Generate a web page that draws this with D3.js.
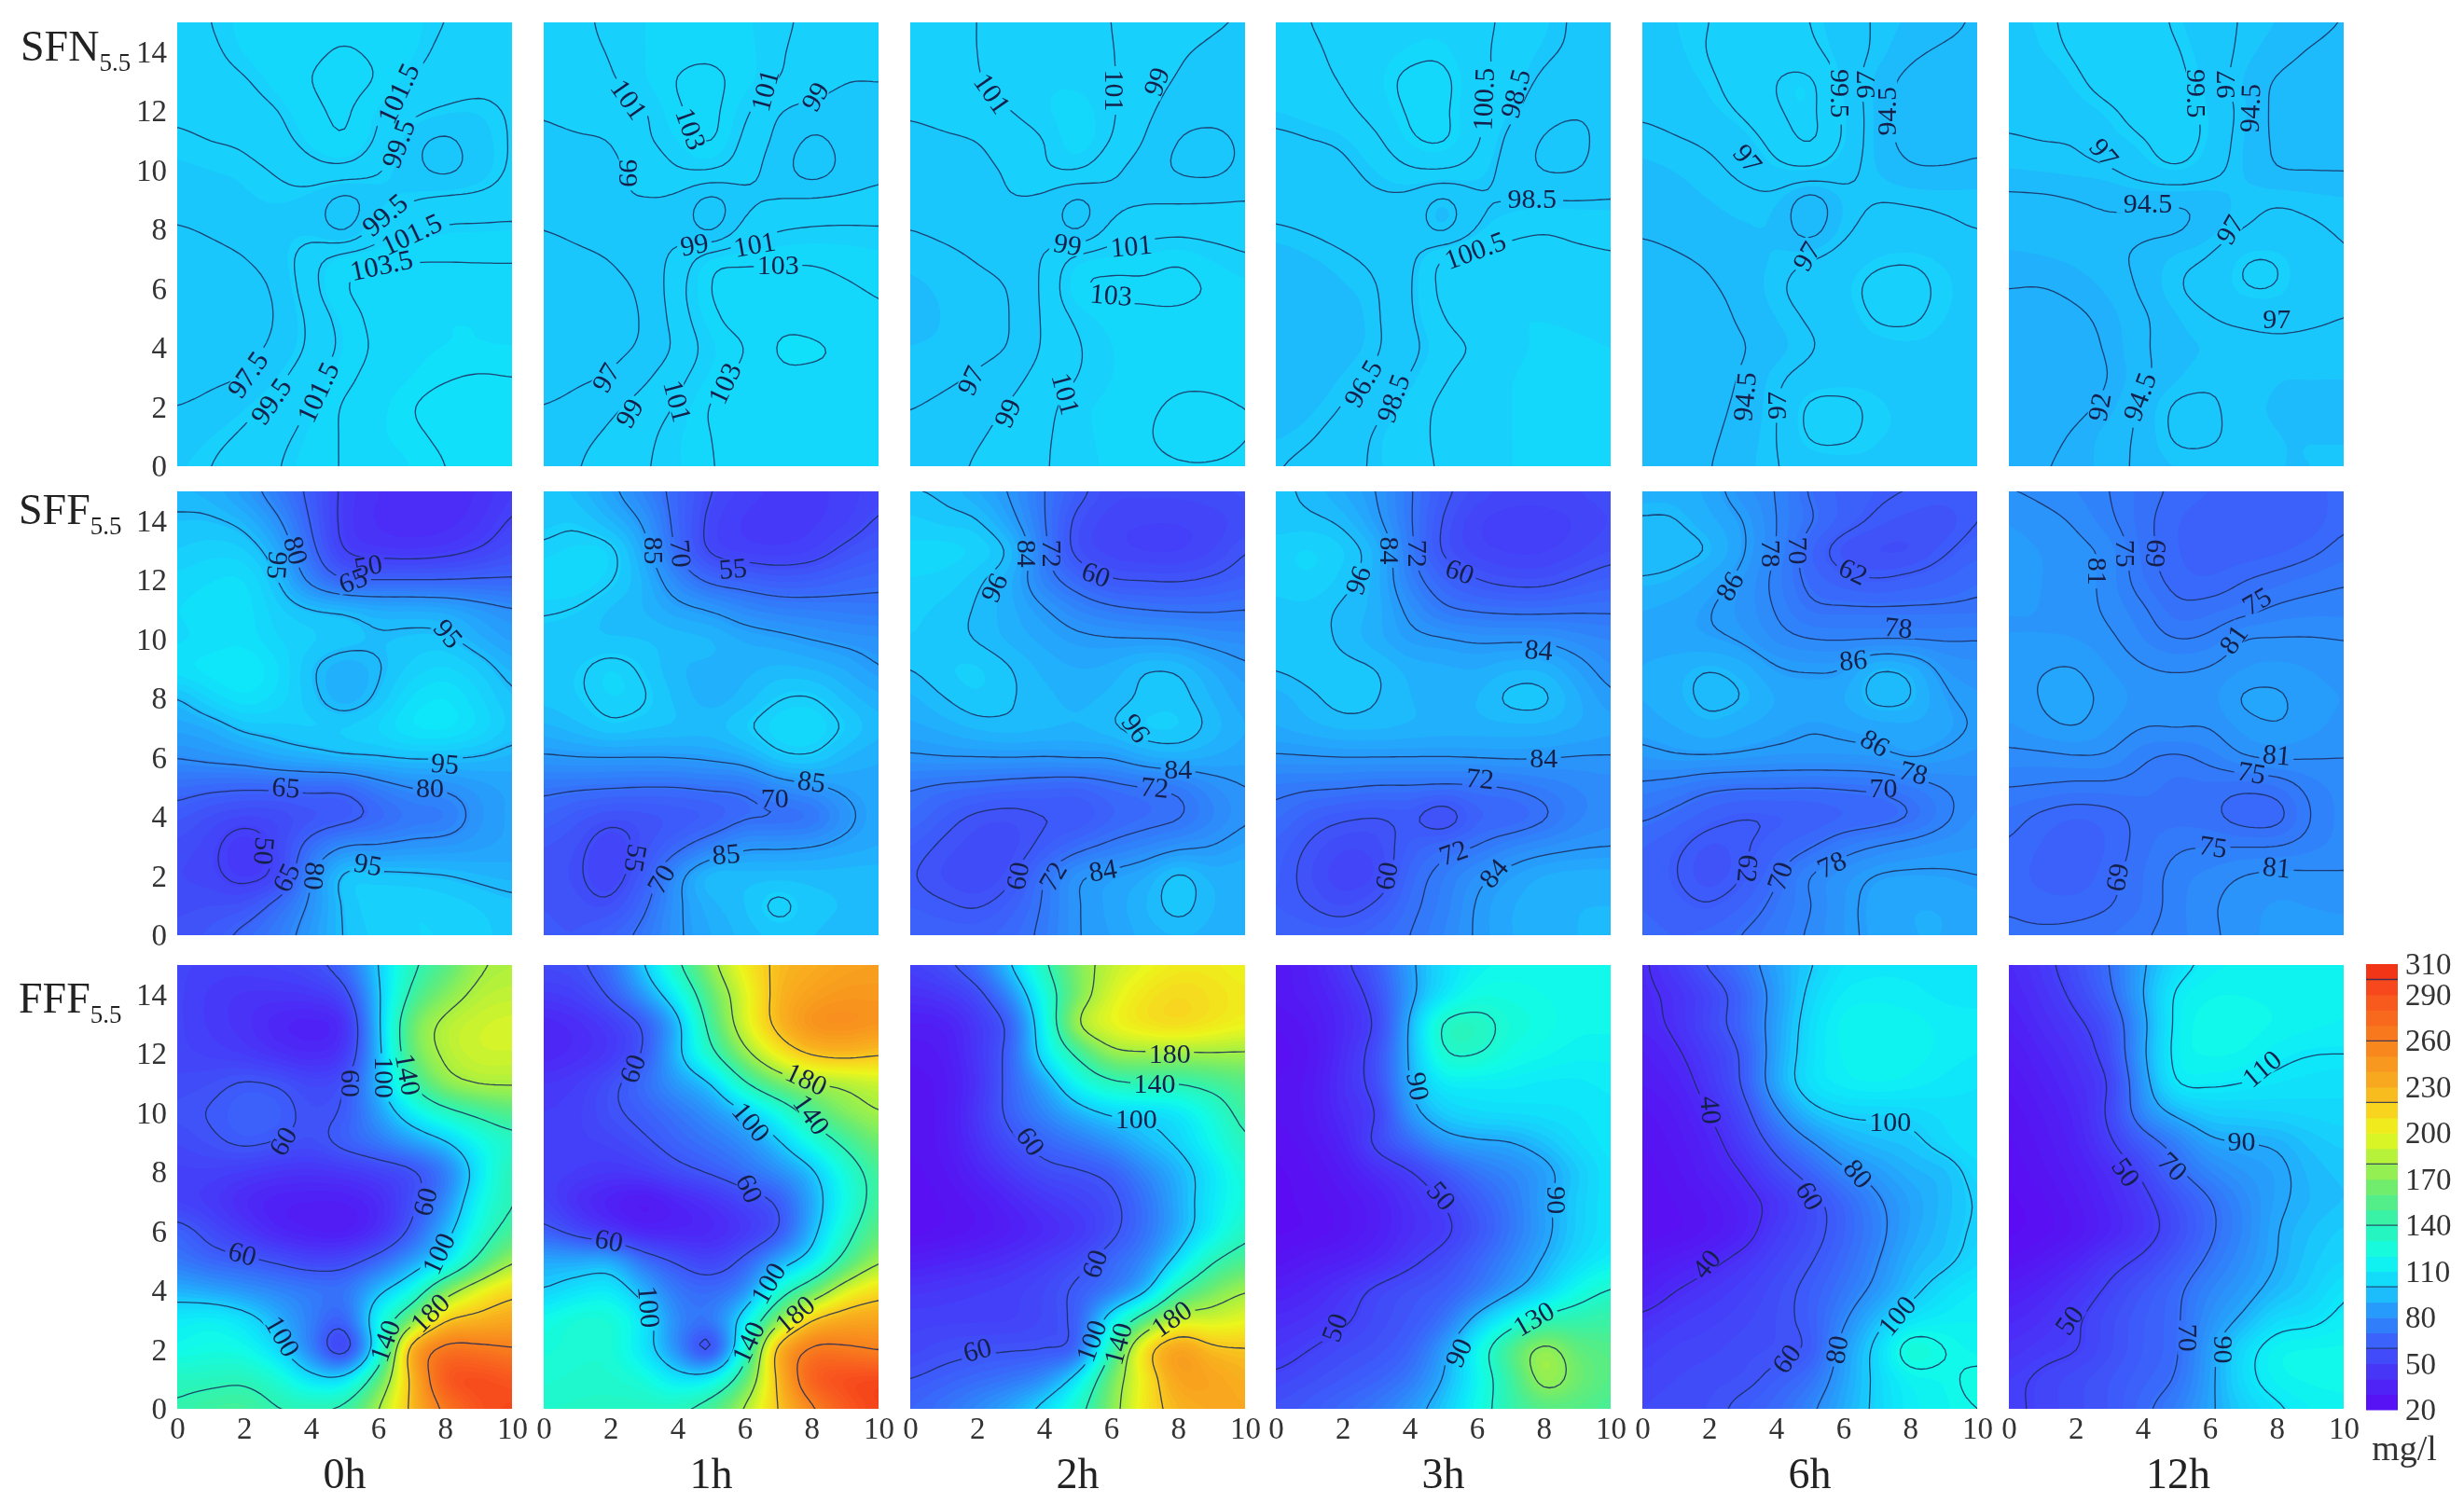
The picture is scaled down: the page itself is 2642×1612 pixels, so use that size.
<!DOCTYPE html>
<html>
<head>
<meta charset="utf-8">
<script src="https://cdn.jsdelivr.net/npm/d3@7"></script>
<style>
  body{margin:0;background:#fff}
  svg{display:block;filter:blur(0.6px)}
  text{font-family:"Liberation Serif",serif}
</style>
</head>
<body>
<svg id="chart" width="2642" height="1612"></svg>
<script>
// axis values and titles
const hours=['0h','1h','2h','3h','6h','12h']
const rowNames=['SFN','SFF','FFF']
const xTicks=[0,2,4,6,8,10]
const yTicks=[0,2,4,6,8,10,12,14]
const barTicks=[20,50,80,110,140,170,200,230,260,290,310]
const barLines=[60,100,140,180,220,260,300]
const colorValues=[20,35,50,65,80,90,100,110,120,140,160,180,200,215,230,260,290,310]
const colorStops=['#5b0cf2','#4f22f6','#4440f8','#3b62fa','#2c8cfa','#22aafc','#17d0fc','#0ee8fa','#10fce8','#2cf4b4','#60ec7a','#a4f044','#ecf61c','#f8d41e','#f8b01e','#f8801e','#f8521e','#f02a14']

// measured concentration, one line per y (15 down to 0), x = 0..10
const sfn0=[
[100.8,101.5,102.3,102.8,103,103.1,102.8,102.3,101.5,100.8,100.5],
[100.6,101.2,102.1,102.8,103.2,103.7,103.2,102.2,101,100.3,100.2],
[100.3,100.8,101.3,102.4,103.6,104.2,103.5,101.3,100.5,100,100],
[99.7,100,100.7,101.4,103,104,101.7,100,99.2,99,99.7],
[99.3,99.5,99.7,100.8,102.3,103.6,101.2,98,96.9,98.4,99.7],
[98.8,99,99.1,99.6,100.8,101,99.7,98,96.8,98.3,99.8],
[98.3,98.6,98.9,99.1,98.6,96.4,98.5,99.4,100,100,100.3],
[97.3,97.7,98.2,98.7,98.6,96.6,100.5,101,101.8,101.9,102],
[96.7,97,97.4,98.3,100.9,102.8,103,103.4,103.4,103.4,103.4],
[96.5,96.6,96.9,97.7,100.9,103.6,104.3,104.6,104.6,104.3,104.2],
[96.3,96.4,96.8,97.5,100,102.4,104.3,104.8,105,105,104.8],
[96.4,96.5,96.9,97.9,99.9,102,104,104.8,105,105,105],
[96.7,97.1,97.5,99,100.9,102.9,104.5,105,105.4,105.6,105.5],
[97.5,98,98.9,100.1,101.7,103.9,104.8,105.5,106,106.1,106],
[98.3,99,99.8,101,102.2,103.8,104.9,105.3,105.7,105.9,105.9],
[98.9,99.5,100.4,101.4,102.6,103.7,104.5,105,105.5,105.8,105.8]]
const sfn1=[
[100,100.6,101.4,102,102.4,102.5,102.2,101.3,100.7,100.2,100],
[100,100.5,101.1,102,102.6,102.8,102.4,101.2,100.4,99.8,99.6],
[99.9,100.2,100.8,101.9,103.2,103.4,102.5,101,100,99,99],
[99.1,99.5,100.2,100.7,102.9,103.6,101.4,99,98.3,98.2,98.5],
[98.7,98.8,98.9,100.7,102,103.5,100.5,98.5,96.4,97.6,98.4],
[98,98.2,98.6,99.5,101,101.2,99.8,98,95.6,97.6,98.6],
[97.6,97.9,98.8,99,98.5,95.8,98.5,99,99.3,99.4,99.6],
[97,97.4,97.9,98.3,98.3,96,99.8,100.9,101.2,101.3,101.2],
[96.3,96.6,97,98,99.6,102.6,102.8,102.8,102.9,102.6,102.3],
[96,96.2,96.5,97.3,100.3,103.3,103.6,103.6,103.5,103.2,102.8],
[96,96.2,96.5,97,100,102.6,104,104.4,104.4,104,103.3],
[96.1,96.2,96.5,97.2,99.4,101.8,102.8,105.4,105.3,104.8,104.5],
[96.4,96.7,97.1,98.6,100.5,102.2,103.6,104.6,104.7,104.7,104.6],
[97,97.5,98.6,99.9,101.2,103.3,104,104.5,104.7,104.8,104.8],
[97.8,98.5,99.4,100.5,101.9,103,104,104.5,104.7,104.8,104.8],
[98.3,98.9,99.9,100.8,101.9,102.9,103.8,104.3,104.6,104.7,104.7]]
const sfn2=[
[100,100.6,101,101.5,101.7,101.6,101,100.3,99.8,99.2,98.9],
[100,100.5,101,101.6,101.8,101.7,101.1,100.2,99.2,98.7,98.5],
[99.8,100.2,100.9,101.6,101.9,101.8,101.2,99.9,98.8,98.3,98.3],
[99.2,99.6,100.4,101,101.9,102.6,101.3,99.5,98,97.6,97.8],
[98.5,98.7,98.9,100,100.9,102.9,101,98.9,96.8,96.4,97.3],
[97.9,98.2,98.6,99.2,100.9,101.3,99.4,98,96.6,96.3,97.5],
[97.6,97.9,98.3,99,98.5,96.2,98.4,98.8,98.8,98.9,99],
[97,97.4,97.9,98.2,98.3,96.2,99.6,100.2,100.4,100.2,100.1],
[96.2,96.5,97.1,97.8,99.1,102,102.4,102.3,102.9,102,101.2],
[95.8,96.1,96.4,97,99.4,103,103.4,103.4,103.6,102.9,102.3],
[95.8,96,96.3,96.9,99.3,101.4,102.4,102.6,102.6,102.3,102.1],
[96,96.1,96.4,97,99.3,100.8,102,102.4,102.5,102.4,102.2],
[96.3,96.6,97.2,98.3,99.9,101,102,102.5,102.8,102.8,102.6],
[96.9,97.4,98.2,99.2,100.5,101.8,102.3,102.8,103.2,103.2,103],
[97.5,98.1,98.8,99.7,100.8,101.7,102.3,102.9,103.4,103.5,103],
[98,98.5,99.2,100,100.9,101.6,102.2,102.7,102.9,102.9,102.8]]
const sfn3=[
[99.9,100.5,101,101.5,101.7,101.7,101,100.1,99.2,98.2,97.9],
[99.8,100.2,100.9,101.6,102.1,102.3,101,99.8,98.8,98.2,98],
[99.6,100,100.6,101.8,103,103,101.2,99.6,98.1,97.6,97.7],
[99,99.4,100,101.3,102.8,102.9,100.9,99,97.2,96.6,97],
[98.1,98.4,98.7,100.1,102.4,102.9,100.9,97.8,96.2,96,97.2],
[97.5,97.8,98.1,99,100.3,100.6,99.6,97.6,96.2,96.3,97.6],
[97.2,97.5,97.8,98.2,97.9,95.6,98.2,98.4,98.5,98.5,98.5],
[96.3,96.6,97,97.3,97.6,95.6,98.6,99.9,100.4,100,99.9],
[95.6,95.9,96.3,96.8,98,101,101.4,101.5,101.4,101,100.7],
[95.3,95.5,95.9,96.3,98.3,101.2,101.7,101.8,101.8,101.6,101.4],
[95.2,95.4,95.7,96.2,98.2,100.5,101.7,102,102,101.9,101.8],
[95.2,95.4,95.7,96.2,97.9,99.6,100.7,101.8,102.1,102.1,102],
[95.3,95.6,96,96.8,98.6,100.3,101.5,102,102.2,102.2,102.1],
[95.5,95.8,96.5,98,99.5,101,101.6,102,102.2,102.2,102],
[95.9,96.3,97.3,98.8,99.9,100.9,101.6,102,102.2,102.2,102],
[96.4,97,97.8,98.8,99.9,100.7,101.5,102,102.2,102.2,102]]
const sfn6=[
[98.4,99,99.5,100,100.3,99.5,98.2,96.7,95.8,95,94.3],
[98.3,98.8,99.6,100.4,100.8,100,98.4,96.6,94.9,94.2,94],
[98.1,98.5,99.2,100.4,101.6,102.2,98.7,95.5,93.8,93.4,93.4],
[97.3,97.8,98.7,99.8,101.4,102.1,99.3,95.6,93.5,93,93.2],
[96.4,96.8,97.3,98.4,100.3,102.1,99.4,95.5,93.7,93.3,93.8],
[95.7,96,96.5,97.5,99,99.3,98,95.9,94.7,94.7,95.1],
[95.3,95.6,96,96.4,96.3,92.8,96.2,97,96.8,96.6,96.5],
[94.7,95,95.5,95.9,95.9,93,96.5,97.8,97.9,97.4,96.9],
[94,94.3,94.7,95.3,96.2,97,98.1,99.1,99.4,98.9,98.3],
[93.7,93.9,94.3,95,96.7,98,98.7,100.3,100.1,99.2,98.6],
[93.4,93.7,94,94.7,96,97.3,98.2,99.8,99.8,99,98.6],
[93.3,93.6,94,94.3,95.4,96.7,97.9,98.5,98.8,98.7,98.6],
[93.3,93.5,93.9,94.6,96.6,97.9,98.5,98.7,98.8,98.8,98.7],
[93.3,93.6,94,94.9,96.8,100.2,100.1,99.1,98.9,98.9,98.8],
[93.4,93.7,94.2,95.2,96.9,100,99.9,99,99,98.9,98.8],
[93.5,93.9,94.4,95.5,96.9,98,98.5,98.8,98.9,98.9,98.8]]
const sfn12=[
[98.6,99.2,99.9,100.5,100.4,99.2,98,96.8,96,95.2,94.4],
[98.3,99,99.7,100.4,100.6,99.7,98.3,96.5,95.3,94.3,93.8],
[98,98.3,99.2,100.3,100.8,100,98.6,95.8,94.2,93.6,93.3],
[97.5,97.9,98.5,99.2,100.3,100.4,99,96.3,93.9,93.4,93.2],
[96.8,97,97.1,98.6,99.4,100.6,99,95.9,94.1,93.6,93.4],
[96,96.2,96.4,96.7,98.4,99.5,98,95.9,94.4,94.4,94.4],
[93.9,94,94.4,94.8,94.8,94.6,95,96.4,96.9,96.5,96.2],
[93.6,93.7,94,94.2,94.1,94,95.4,97,97.6,97.3,96.8],
[92.7,92.9,93.2,94,95,96.5,97.2,99.6,99.6,97.9,97.1],
[92,91.9,92.4,93.2,94.9,96.9,97.9,99.6,99.6,98,97.3],
[91.4,91.3,91.6,92.5,94.1,95.9,96.9,97.5,97.8,97.4,97],
[91,91,91.3,92.2,94.2,95.6,96,96.2,96.4,96.3,96.2],
[90.9,91,91.2,91.9,94,95.8,96.7,96.4,96,96,96],
[91,91.2,91.5,92.5,95,97.6,97.4,96.2,95.9,95.9,95.9],
[91.4,91.6,92.2,93.6,95,97.6,97.4,96.3,96,96,96],
[91.6,91.9,92.4,93.6,95.1,96,96.3,96.2,96,96,96]]

const sff0=[
[93,92,85,74,62,47,42,40,40,42,48],
[96,96,93,82,64,46,41,40,40,44,51],
[99,101,100,90,68,48,45,44,46,50,56],
[103,105,106,96,76,64,65,65,65,66,66],
[105,107,107,100,96,95,91,91,90,85,81],
[104,106,107,102,100,98,96,97,97,91,86],
[108,110,112,106,95.5,90,94,100,103,99,92],
[94,103,108,104,97,90,96,106,109,103,96],
[88,90,97,98,100,100,103,109,110,105,98],
[80.5,83,85,90,92,95,95,96,95.5,94.5,92],
[69,67,66,66,67,66,75,80,81,85,88],
[61,56,53,54,58,60,66,72,73,83,88],
[56,52,44,53,70,81,81,83,84,86,88],
[54,52,46,51,80,99,98,97,95.8,93.5,92],
[56,57,58,69,82,97,101,102,101,99,97],
[58,61,68,75,85,96,100,102,102,100,98]]
const sff1=[
[98,95,87,77,66,55,50,47,47,49,53],
[98,99,93,84,66,52,47,46,47,50,56],
[101,103,103,89,68,52,49,48,50,57,61],
[104,105,101,93,78,67,65,62,63,66,68],
[101,99.5,95,93,88,85,79,76,75,74,73],
[97,96,96,96,95,94,90,88,85,83,82],
[97,99,103,99,93,92,92,94,93,90,85],
[97,99,102.5,101,95,91,94,100,101,95,91],
[92,95,99,97,96,95,100,104,105,100,94],
[84,85,85,85,85.5,87,90,99,100,93,90],
[72,71,70.5,69.5,69.5,71,71,79,83,87,89],
[66,61,57,58,60,62,68,68,70,82,89],
[60,57,50,58,67,76,84,84,85,88,90],
[59,56,50,62,83,97,95,95,95,95,95],
[60,58,56,68,84,92,96,103,97,96,95],
[61,60,66,73,84,90,94,97,96,95,95]]
const sff2=[
[96,95,90,83,72,63,55,55,55,56,58],
[100,98,97,87,72.5,57,52,51,51,52,55],
[103,104,102,96,74,56,52,50,50,53,60],
[102,101,97,91,76,67,60,59.5,59,61,64],
[100,98,95.5,91,85,78,74,72,71,71,72],
[99,97.5,95.5,92,89,86,85,84.5,84,81,80],
[96,99,100,96.5,92,90,91,96.5,96,90,85],
[92,96,99,96.5,94,92,94,97,98,93,88],
[89,91,94,95,94,93,96,100,100,95,90],
[83,84,84,84.5,84,85,84.5,90,92,90,88],
[72.5,70,69,67,66,65,69,71,73,80,84],
[69,63,58,57,59.5,59,65,68,70,77,83],
[63,58.5,55,55,62,69,74,78,82,84,88],
[60.5,56,53,58,72,84,87,90,99,92,93],
[63,61,59,64,73,84,88,93,99,93,92],
[66,65,65,68,74,84,87,91,93,92,91]]
const sff3=[
[97,95,90,84,73,62,56,53,53,54,56],
[97,97,95,86,73,59,51,49,49,51,54],
[101,103,100,93,74,58,52,50,50,53,57],
[100,102,98,92,76,66,60,57,57,61,64],
[98,98,95,92,82,73,71,70,70,71,71],
[97.5,98,95,91,86,85,83,83,83,80,78],
[96.5,98,97.5,96.5,92,91,90,93,93,87,81],
[91,95,98,96.5,93,92,93,98,98,91,85],
[90,92,94,94,93,92,92,92,92,90,88],
[83,83.5,84,84,84,84,84.5,85,84.5,83.5,83.5],
[74,73,72.5,71,71,70.5,70.5,72,75,78,79.5],
[70,64,61,59.5,61,53,65,65,70,77,80],
[65,59,54,55,64,69,72,78,81,83,83.8],
[64,57,51,53,68,75,82,87,91,92,92],
[63,60,56,61,70,76,85,90,92,93,93],
[66,65,65,68,72,78,85,90,92,93,94]]
const sff6=[
[92,92,89,82,78,69,65,63,62,61.5,62],
[94.5,94.5,91,86.5,78,71,65,61,59,58,62],
[95,95.5,94.5,87,78,66,58,56,56,61,65],
[94,93,89,84,76,68,64,62,64,66,69],
[90,88.5,86,83,77.5,71,71,71,71,71,71],
[89,88,87,85,80,78,77.5,77.5,77.5,77.5,78],
[90,92,94.5,92,86.5,85.5,86,95,93,84,82],
[90,92.5,95.5,94.5,90,89,90,96.5,95,87,84.5],
[88,90,92.5,90,88,86.2,87,88,89,88,85.5],
[84,85.5,85.7,85,84,84,84,84.5,87,85,83],
[76.5,74.5,71,70,70,69.5,70,71,74,78,80],
[71,68,64,61.5,62,63,65,66,69,76,82],
[66,63,59,61,65,69,75,78.5,81,83,84],
[66,62,58,61.5,69,79,83,87,87.5,87,86],
[66,64,62,66,72,77.5,84,88.5,90,90,88],
[67,66,67,70.5,74,79,84,88,90,90,90]]
const sff12=[
[81,80,78,75,71,68,66,65,65,65,67],
[84,82.5,80.5,76,70.5,66,64,63,63,64,68],
[85,84,82.5,80,71,66,64,64,65,67.5,71],
[85,84,83,79.5,72,67,66,68.8,71,73,74.5],
[84,84,83,80,76,70,71,73,76,77,77],
[84,84,84,82,78,74.7,76,81.5,81.5,81.5,81],
[85,87,87.5,84,81.5,80.8,81.5,84,85,84,83],
[85,87.5,88.5,86,83,82.5,83,88.2,88.2,85,84],
[83.5,86,87.5,84,81,81.5,81,85,87,85,83],
[79.5,79.5,80.5,80.5,75.5,73.5,76.5,81,82,81.3,81],
[75,74.5,73.5,73.5,73,71,71,69.5,71,76.5,79],
[71,67.5,65.5,67,70.5,71,70,66,66,75,79],
[68.5,65.5,64,66,71,74.5,75,75,75,77,79],
[67,65,64,67.5,72,77,79,81.5,82.5,82,81.5],
[68.5,67,67,68.5,72,77,80.5,83,84.5,84,83.5],
[70,70,70.5,72,74.5,77,80,83,85,85,85]]

const fff0=[
[52,50,50,52,56,68,100,135,155,178,183],
[52,47,44,44,45,53,96,146,170,185,188],
[52,47,43,36,33,38,95,165,186,192,194],
[52,50,47,42,38,44,92,162,185,192,192],
[55,57,62,60,53,57,93,142,174,183,183],
[58,61,66,65,57,61,85,112,132,145,155],
[54,58,63,60,56,65,73,85,97,118,132],
[50,50,47,44,43,45,50,55,72,108,142],
[50,46,38,33,32,32,38,56,78,118,140],
[66,55,46,36,32,30,40,62,92,125,150],
[73,66,63,58,52,54,66,85,105,145,178],
[92,88,83,78,74,72,95,118,168,198,215],
[112,115,108,92,75,62,118,165,220,228,235],
[118,122,120,104,75,42,112,240,272,268,262],
[135,136,138,128,106,105,155,225,290,295,288],
[142,148,150,141,141,145,180,225,265,290,296]]
const fff1=[
[55,57,70,100,137,175,205,225,232,238,240],
[47,50,62,85,115,160,195,228,240,245,245],
[36,40,47,60,92,150,195,228,250,252,248],
[36,40,45,60,96,135,175,205,224,228,222],
[45,48,57,70,85,98,138,165,178,183,190],
[48,50,58,64,72,82,96,120,150,170,180],
[50,50,52,58,66,72,80,97,122,145,165],
[50,48,45,48,56,62,70,80,95,125,150],
[52,40,33,27,35,42,52,60,88,120,150],
[64,53,43,35,35,37,44,57,92,130,160],
[90,90,92,70,58,50,63,88,108,148,178],
[100,108,112,92,72,68,78,125,158,195,212],
[120,128,128,110,78,72,110,170,222,235,238],
[125,128,128,108,78,46,125,235,268,265,258],
[128,130,130,125,108,112,155,225,285,295,297],
[132,133,134,135,137,152,183,220,255,285,298]]
const fff2=[
[50,57,70,100,137,170,188,198,205,205,200],
[42,45,54,80,122,167,195,208,214,210,205],
[32,33,45,62,115,185,200,210,214,208,202],
[28,30,45,65,110,145,176,178,178,179,178],
[25,28,42,66,88,118,136,140,140,147,156],
[24,28,45,65,78,92,102,103,108,125,148],
[24,28,42,57,66,73,82,94,102,118,138],
[23,26,36,46,56,58,63,78,92,108,128],
[22,24,28,36,44,50,56,70,90,110,125],
[22,24,27,32,38,44,56,70,90,112,135],
[32,35,38,42,48,55,67,78,105,138,152],
[44,46,48,50,54,63,72,92,142,165,180],
[50,50,50,50,54,63,112,155,192,192,198],
[52,56,58,59,59,62,140,215,245,225,222],
[60,64,68,72,80,108,165,205,240,238,230],
[66,72,80,90,106,132,170,208,228,235,235]]
const fff3=[
[28,33,47,62,87,105,115,118,118,118,118],
[28,32,40,56,85,108,122,122,120,118,118],
[24,28,38,50,92,136,137,126,122,118,118],
[22,26,40,56,92,131,132,122,118,115,115],
[24,28,42,55,91,112,112,112,110,110,112],
[24,28,40,48,85,100,105,106,107,108,110],
[22,26,35,54,68,84,88,89,96,105,110],
[20,23,30,40,48,60,72,78,85,98,108],
[20,22,26,32,42,50,62,73,87,100,108],
[20,21,25,32,41,46,58,72,86,100,108],
[25,30,33,38,47,55,66,78,91,104,113],
[33,37,44,53,58,62,72,86,100,120,132],
[40,43,48,55,60,70,95,118,138,142,145],
[45,50,55,58,65,85,118,155,180,160,155],
[52,56,60,65,73,90,115,145,180,165,155],
[58,62,68,74,84,98,120,142,155,155,150]]
const fff6=[
[38,48,62,73,88,99,108,110,110,110,110],
[38,42,52,66,85,103,112,113,112,110,110],
[37,42,54,67,87,106,116,117,116,113,112],
[32,38,48,61,88,107,115,117,116,113,111],
[30,34,45,61,90,108,113,115,113,110,108],
[26,30,40,54,78,96,102,102,103,106,107],
[24,28,35,48,65,79,90,95,97,104,108],
[22,26,33,40,54,65,78,85,92,94,104],
[22,24,28,35,43,55,66,78,87,94,101],
[22,23,27,34,47,55,65,76,88,95,102],
[28,32,37,44,52,59,68,79,92,97,104],
[33,40,45,50,56,63,72,83,96,106,112],
[42,47,50,53,57,63,78,95,108,113,114],
[48,52,53,56,57,60,85,104,130,121,115],
[52,54,56,57,63,70,87,103,115,117,124],
[54,56,57,63,68,78,90,103,113,116,120]]
const fff12=[
[38,46,57,70,88,105,113,114,114,114,114],
[36,43,53,67,90,113,117,117,116,115,114],
[33,40,47,58,86,114,119,119,117,115,114],
[30,36,43,55,88,115,118,117,112,110,110],
[27,33,40,49,84,112,112,110,108,107,106],
[25,30,37,52,80,93,100,101,102,103,104],
[23,28,35,48,63,75,88,89.5,91,97,100],
[22,26,32,40,52,68,78,84,87,94,97],
[20,23,29,37,46,58,69,79,88,93,96],
[20,22,27,35,44,55,68,78,90,96,100],
[24,29,36,46,52,62,72,81,90,98,102],
[32,37,44,52,60,68,78,85,94,100,109],
[38,42,49,56,63,68,82,92,105,107,113],
[43,47,49,56,63,68,86,105,117,118,118],
[48,52,56,60,65,70,87,106,116,118,118],
[48,52,56,60,68,76,88,100,108,114,116]]

// contour levels per panel
const sfnLevels=[[97.5,99.5,101.5,103.5,105.5],[97,99,101,103,105],[97,99,101,103],[96.5,98.5,100.5,102.5],[94.5,97,99.5,101.5],[92,94.5,97,99.5]]
const sffLevels=[[50,65,80,95],[55,70,85,100],[60,72,84,96],[60,72,84,96],[62,70,78,86,94],[69,75,81,87]]
const fffLevels=[[60,100,140,180,220,260],[60,100,140,180,220,260],[60,100,140,180,220],[50,90,130,170],[40,60,80,100,120],[50,70,90,110]]

// inline contour labels: x, y, text, angle
const sfnLabels=[
[[6.6,12.6,'101.5',-65],[6.6,10.9,'99.5',-70],[6.2,8.5,'99.5',-40],[7,7.85,'101.5',-25],[6.1,6.8,'103.5',-12],[2.1,3.1,'97.5',-55],[2.8,2.2,'99.5',-55],[4.2,2.5,'101.5',-65]],
[[2.55,12.4,'101',55],[4.4,11.4,'103',70],[6.6,12.7,'101',-75],[8.1,12.5,'99',-60],[2.55,9.9,'99',90],[4.5,7.5,'99',-10],[6.3,7.5,'101',-10],[7,6.8,'103',0],[1.85,3,'97',-60],[2.55,1.8,'99',-60],[4,2.2,'101',75],[5.4,2.8,'103',-65]],
[[2.45,12.6,'101',55],[6.1,12.7,'101',90],[7.35,13,'99',-70],[4.7,7.5,'99',10],[6.6,7.45,'101',-5],[6,5.8,'103',5],[1.8,2.9,'97',-65],[2.9,1.8,'99',-65],[4.65,2.45,'101',75]],
[[6.2,12.4,'100.5',-88],[7.15,12.6,'98.5',-75],[7.65,9.05,'98.5',0],[5.95,7.3,'100.5',-20],[2.6,2.8,'96.5',-60],[3.5,2.3,'98.5',-70]],
[[5.9,12.6,'99.5',90],[6.65,12.9,'97',-90],[7.3,12,'94.5',-90],[3.15,10.4,'97',50],[4.9,7.1,'97',-60],[3.05,2.35,'94.5',-85],[4,2.05,'97',-90]],
[[5.6,12.6,'99.5',90],[6.45,12.9,'97',-90],[7.2,12.1,'94.5',-88],[2.85,10.6,'97',50],[4.15,8.9,'94.5',0],[6.6,8,'97',-60],[8,5,'97',0],[2.7,2,'92',-80],[3.9,2.35,'94.5',-70]]]
const sffLabels=[
[[3,12.5,'95',95],[3.55,13,'80',75],[5.7,12.5,'50',-10],[5.25,12,'65',-20],[8.1,10.2,'95',50],[8,5.8,'95',5],[3.25,5,'65',5],[7.55,5,'80',0],[2.6,2.85,'50',95],[3.25,1.95,'65',-65],[4.1,2,'80',95],[5.7,2.4,'95',10]],
[[3.3,13,'85',90],[4.1,12.9,'70',85],[5.65,12.4,'55',-5],[8,5.2,'85',8],[6.9,4.65,'70',0],[2.75,2.6,'55',100],[3.5,1.9,'70',-60],[5.45,2.75,'85',-5]],
[[2.5,11.75,'96',-65],[3.5,12.9,'84',90],[4.25,12.9,'72',90],[5.55,12.2,'60',20],[6.75,7,'96',55],[8,5.6,'84',0],[7.3,5,'72',5],[3.2,2,'60',-80],[4.25,2,'72',-60],[5.75,2.2,'84',-10]],
[[3.4,13,'84',90],[4.25,12.9,'72',90],[5.5,12.3,'60',20],[2.45,12,'96',-70],[7.85,9.65,'84',5],[8,6,'84',0],[6.1,5.3,'72',5],[3.3,2,'60',-80],[5.3,2.8,'72',-20],[6.5,2.1,'84',-50]],
[[3.85,12.9,'78',90],[4.65,13,'70',90],[6.3,12.3,'62',25],[2.6,11.8,'86',-60],[7.65,10.4,'78',5],[6.3,9.3,'86',-5],[6.95,6.5,'86',30],[8.1,5.5,'78',15],[7.2,5,'70',0],[3.15,2.25,'62',95],[4.1,2,'70',-70],[5.65,2.4,'78',-25]],
[[2.65,12.3,'81',90],[3.5,12.9,'75',90],[4.4,12.9,'69',95],[7.4,11.3,'75',-30],[6.7,10,'81',-55],[8,6.1,'81',5],[7.25,5.5,'75',10],[6.1,3,'75',8],[8,2.3,'81',5],[3.25,1.95,'69',100]]]
const fffLabels=[
[[5.2,11,'60',90],[6.2,11.2,'100',90],[6.9,11.3,'140',80],[3.15,9.05,'60',-60],[7.4,7,'60',-75],[1.95,5.25,'60',15],[7.8,5.25,'100',-65],[7.55,3.25,'180',-45],[3.15,2.45,'100',60],[6.2,2.3,'140',-70]],
[[2.65,11.5,'60',-70],[7.85,11.15,'180',25],[6.2,9.7,'100',50],[8,9.95,'140',55],[6.15,7.45,'60',65],[1.95,5.7,'60',10],[3.15,3.45,'100',85],[6.7,4.25,'100',-60],[7.5,3.2,'180',-40],[6.1,2.25,'140',-65]],
[[7.75,12,'180',0],[7.3,11,'140',0],[6.75,9.8,'100',0],[3.6,9.05,'60',55],[5.5,4.9,'60',-70],[2,2,'60',-15],[5.4,2.3,'100',-70],[6.2,2.2,'140',-75],[7.8,3.05,'180',-35]],
[[4.25,10.9,'90',80],[4.95,7.2,'50',50],[8.4,7.05,'90',90],[1.75,2.75,'50',-70],[7.7,3.05,'130',-30],[5.45,1.9,'90',-65]],
[[2.05,10.1,'40',85],[7.4,9.7,'100',0],[6.45,7.95,'80',50],[5,7.2,'60',60],[1.9,4.9,'40',-50],[7.6,3.15,'100',-50],[4.3,1.7,'60',-55],[5.8,2,'80',-80]],
[[7.55,11.5,'110',-40],[6.95,9.05,'90',0],[4.9,8.2,'70',45],[5.35,2.4,'70',90],[6.4,2,'90',90],[3.5,8,'50',55],[1.8,3,'50',-55]]]

const grids=[[sfn0,sfn1,sfn2,sfn3,sfn6,sfn12],[sff0,sff1,sff2,sff3,sff6,sff12],[fff0,fff1,fff2,fff3,fff6,fff12]]
const levels=[sfnLevels,sffLevels,fffLevels]
const labels=[sfnLabels,sffLabels,fffLabels]

const colX=[190,583,976,1368,1761,2154]
const rowY=[24,527,1035]
const w=359
const h=476
const k=6
const step=3
const soften=0.5

const svg=d3.select('#chart')
const color=d3.scaleLinear().domain(colorValues).range(colorStops).interpolate(d3.interpolateRgb).clamp(true)

// catmull-rom with some b-spline mixed in, so the contour lines come out round
function cubic(a,b,c,d,t){
  const cr=0.5*(2*b+(c-a)*t+(2*a-5*b+4*c-d)*t*t+(3*b-a-3*c+d)*t*t*t)
  const u=1-t
  const bs=(u*u*u*a+(3*t*t*t-6*t*t+4)*b+(-3*t*t*t+3*t*t+3*t+1)*c+t*t*t*d)/6
  return cr*(1-soften)+bs*soften
}
function resample(rows){
  const ny=rows.length,nx=rows[0].length
  const get=(j,i)=>rows[Math.max(0,Math.min(ny-1,j))][Math.max(0,Math.min(nx-1,i))]
  const out=[]
  for(let y=0;y<=(ny-1)*k;y++){
    const j=Math.min(ny-2,Math.floor(y/k)),v=y/k-j
    for(let x=0;x<=(nx-1)*k;x++){
      const i=Math.min(nx-2,Math.floor(x/k)),u=x/k-i
      const c=[-1,0,1,2].map(m=>cubic(get(j+m,i-1),get(j+m,i),get(j+m,i+1),get(j+m,i+2),u))
      out.push(cubic(c[0],c[1],c[2],c[3],v))
    }
  }
  return {values:out,width:(nx-1)*k+1,height:(ny-1)*k+1}
}

grids.forEach((row,r)=>{
  row.forEach((rows,c)=>{
    const xScale=d3.scaleLinear().domain([0,10]).range([colX[c],colX[c]+w])
    const yScale=d3.scaleLinear().domain([0,15]).range([rowY[r]+h,rowY[r]])
    const id=`p${r}_${c}`
    const grid=resample(rows)
    const contours=d3.contours().size([grid.width,grid.height]).smooth(true)
    const path=d3.geoPath(d3.geoTransform({point(x,y){
      this.stream.point(xScale((x-0.5)/k),yScale(15-(y-0.5)/k))
    }}))

    const defs=svg.append('defs')
    defs.append('clipPath').attr('id','clip'+id).append('rect')
      .attr('x',colX[c]).attr('y',rowY[r]).attr('width',w).attr('height',h)

    const g=svg.append('g').attr('clip-path',`url(#clip${id})`)
    const lo=d3.min(grid.values),hi=d3.max(grid.values)
    const fills=d3.range(Math.floor(lo/step)*step,hi,step)
    g.append('rect').attr('x',colX[c]).attr('y',rowY[r]).attr('width',w).attr('height',h).attr('fill',color(lo))
    g.selectAll('path.band')
      .data(contours.thresholds(fills)(grid.values))
      .join('path')
      .attr('class','band')
      .attr('d',path)
      .attr('fill',d=>color(d.value+step/2))

    // lines stop under their labels
    const mask=defs.append('mask').attr('id','mask'+id).attr('maskUnits','userSpaceOnUse')
      .attr('x',colX[c]).attr('y',rowY[r]).attr('width',w).attr('height',h)
    mask.append('rect').attr('x',colX[c]).attr('y',rowY[r]).attr('width',w).attr('height',h).attr('fill','#fff')
    mask.selectAll('rect.hole')
      .data(labels[r][c])
      .join('rect')
      .attr('class','hole')
      .attr('x',d=>-(d[2].length*15+7)/2)
      .attr('y',-11)
      .attr('width',d=>d[2].length*15+7)
      .attr('height',22)
      .attr('fill','#000')
      .attr('transform',d=>`translate(${xScale(d[0])},${yScale(d[1])}) rotate(${d[3]})`)

    g.append('g').attr('mask',`url(#mask${id})`)
      .selectAll('path')
      .data(contours.thresholds(levels[r][c])(grid.values))
      .join('path')
      .attr('d',path)
      .attr('fill','none')
      .attr('stroke','#1b2a5a')
      .attr('stroke-opacity',0.85)
      .attr('stroke-width',1.3)

    g.selectAll('text')
      .data(labels[r][c])
      .join('text')
      .attr('transform',d=>`translate(${xScale(d[0])},${yScale(d[1])}) rotate(${d[3]})`)
      .attr('text-anchor','middle')
      .attr('dy','0.34em')
      .attr('font-size',30)
      .attr('fill','#14204a')
      .text(d=>d[2])

    if(c==0){
      const yAxis=d3.axisLeft(yScale).tickValues(yTicks).tickSize(0).tickPadding(11)
      const ga=svg.append('g').attr('transform',`translate(${colX[c]},0)`).call(yAxis)
      ga.select('.domain').remove()
      ga.selectAll('text').attr('font-size',33).attr('fill','#333')
    }
    if(r==2){
      const xAxis=d3.axisBottom(xScale).tickValues(xTicks).tickSize(0).tickPadding(9)
      const ga=svg.append('g').attr('transform',`translate(0,${rowY[r]+h})`).call(xAxis)
      ga.select('.domain').remove()
      ga.selectAll('text').attr('font-size',33).attr('fill','#333')
      svg.append('text')
        .attr('x',colX[c]+w/2+(c==5?2:0))
        .attr('y',1596)
        .attr('text-anchor','middle')
        .attr('font-size',46)
        .attr('fill','#222')
        .text(hours[c])
    }
  })
})

// row names
const nameBase=[65,562,1086]
const nameX=[22,20,20]
rowNames.forEach((n,r)=>{
  const t=svg.append('text').attr('x',nameX[r]).attr('y',nameBase[r]).attr('font-size',46).attr('fill','#222')
  t.append('tspan').text(n)
  t.append('tspan').attr('font-size',27).attr('dy',11).text('5.5')
})

// colour bar
const barX=2537,barW=34
const barScale=d3.scaleLinear().domain([20,310]).range([1512,1034])
svg.selectAll('rect.bar')
  .data(d3.range(20,310,10))
  .join('rect')
  .attr('class','bar')
  .attr('x',barX)
  .attr('width',barW)
  .attr('y',d=>barScale(d+10))
  .attr('height',d=>barScale(d)-barScale(d+10)+0.5)
  .attr('fill',d=>color(d+5))
svg.selectAll('line.bar')
  .data(barLines)
  .join('line')
  .attr('class','bar')
  .attr('x1',barX).attr('x2',barX+barW)
  .attr('y1',barScale).attr('y2',barScale)
  .attr('stroke','#1b2a5a').attr('stroke-opacity',0.8).attr('stroke-width',1.3)
const barAxis=d3.axisRight(barScale).tickValues(barTicks).tickFormat(d3.format('d')).tickSize(0).tickPadding(8)
const gb=svg.append('g').attr('transform',`translate(${barX+barW},0)`).call(barAxis)
gb.select('.domain').remove()
gb.selectAll('text').attr('font-size',33).attr('fill','#333')
svg.append('text').attr('x',2578).attr('y',1566).attr('text-anchor','middle').attr('font-size',38).attr('fill','#333').text('mg/l')
</script>
</body>
</html>
